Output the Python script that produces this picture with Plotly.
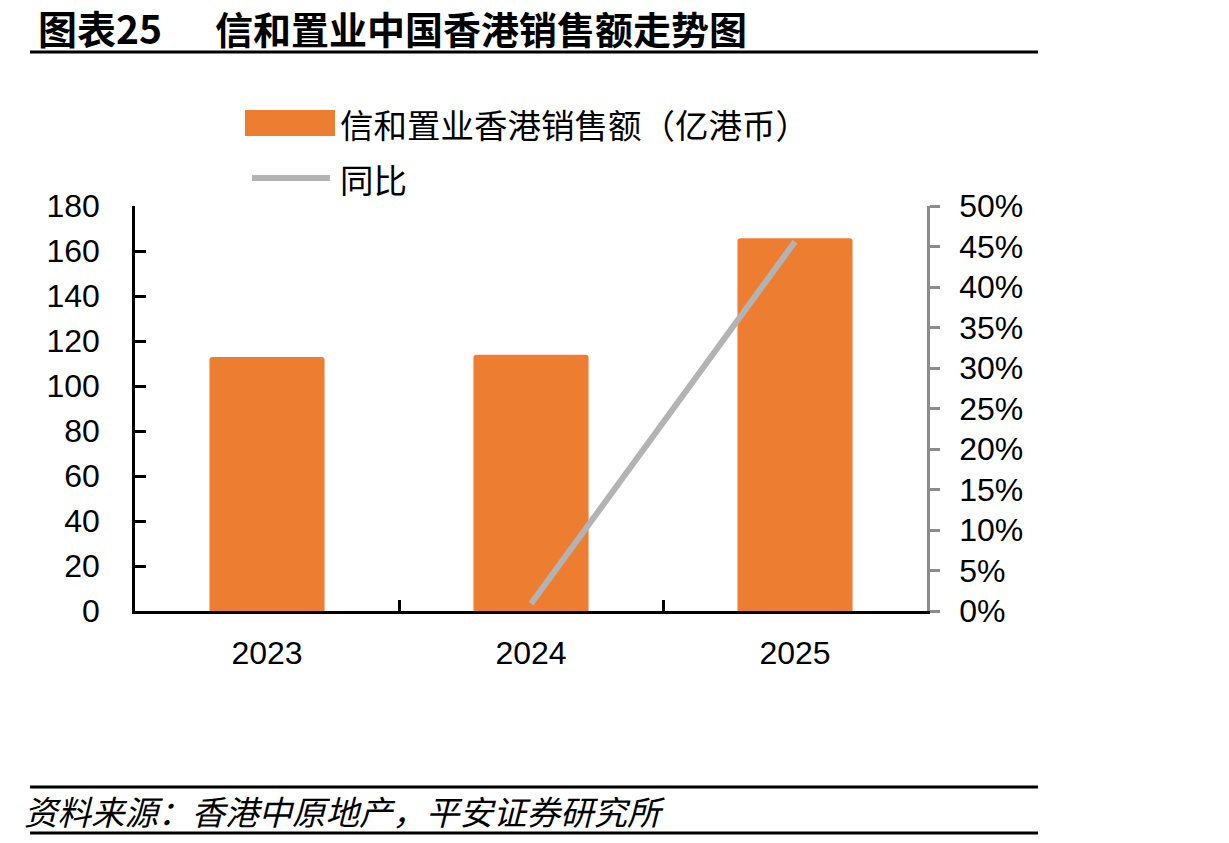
import plotly.graph_objects as go

# ---- data ----
years = ["2023", "2024", "2025"]
sales = [112.9, 113.9, 165.7]          # 亿港币
yoy = [None, 0.009, 0.456]             # 同比
y_ticks = [0, 20, 40, 60, 80, 100, 120, 140, 160, 180]
y2_ticks = [0, 0.05, 0.10, 0.15, 0.20, 0.25, 0.30, 0.35, 0.40, 0.45, 0.50]
y2_labels = ["0%", "5%", "10%", "15%", "20%", "25%", "30%", "35%", "40%", "45%", "50%"]

W, H = 1229, 843
def px(x): return x / W
def py(y): return 1 - y / H

FONT = "Liberation Sans, Arial, Noto Sans CJK SC"
CJK = "Noto Sans CJK SC, Liberation Sans"
ORANGE = "#ED7D31"
GRAY = "#B3B3B3"

fig = go.Figure()
fig.add_bar(x=years, y=sales, marker_color=ORANGE, marker_line_width=0,
            width=0.436, yaxis="y", showlegend=False, name="信和置业香港销售额（亿港币）")
fig.add_scatter(x=years, y=yoy, mode="lines", line=dict(color=GRAY, width=6),
                yaxis="y2", showlegend=False, name="同比")

fig.update_layout(
    width=W, height=H,
    margin=dict(l=0, r=0, t=0, b=0),
    paper_bgcolor="white", plot_bgcolor="white",
    template="none",
    barcornerradius=3,
    font=dict(family=FONT, size=32, color="black"),
    xaxis=dict(
        domain=[px(135), px(927)], type="category", range=[-0.5, 2.5],
        showline=True, linecolor="black", linewidth=3,
        ticks="inside", tickson="boundaries", ticklen=11, tickwidth=2.5, tickcolor="black",
        showgrid=False, zeroline=False, automargin=False,
        tickfont=dict(size=32, family=FONT), ticklabelstandoff=12, anchor="y",
    ),
    yaxis=dict(
        domain=[py(611), py(206)], range=[0, 180], tickvals=y_ticks,
        showline=True, linecolor="black", linewidth=2.5,
        ticks="inside", ticklen=11, tickwidth=2.5, tickcolor="black",
        showgrid=False, zeroline=False, automargin=False,
        tickfont=dict(size=32, family=FONT), ticklabelstandoff=26, anchor="x",
    ),
    yaxis2=dict(
        overlaying="y", side="right", anchor="x", range=[0, 0.5],
        tickvals=y2_ticks, ticktext=y2_labels,
        showline=True, linecolor="#8C8C8C", linewidth=2.5,
        ticks="outside", ticklen=10, tickwidth=2.5, tickcolor="#8C8C8C",
        showgrid=False, zeroline=False, automargin=False,
        tickfont=dict(size=32, family=FONT), ticklabelstandoff=13,
    ),
)

shapes = []
# title rule
shapes.append(dict(type="line", xref="paper", yref="paper", x0=px(30), x1=px(1038),
                   y0=py(52), y1=py(52), line=dict(color="black", width=3)))
# footer rules
for yy in (787, 833):
    shapes.append(dict(type="line", xref="paper", yref="paper", x0=px(30), x1=px(1038),
                       y0=py(yy), y1=py(yy), line=dict(color="black", width=3)))
# legend swatches
shapes.append(dict(type="rect", xref="paper", yref="paper", x0=px(245), x1=px(335),
                   y0=py(136), y1=py(110), fillcolor=ORANGE, line=dict(width=0)))
shapes.append(dict(type="line", xref="paper", yref="paper", x0=px(252), x1=px(330),
                   y0=py(178), y1=py(178), line=dict(color=GRAY, width=6)))
fig.update_layout(shapes=shapes)

ann = []
ann.append(dict(text="<b>图表25</b>", x=px(36), y=py(27), xref="paper", yref="paper",
                xanchor="left", yanchor="middle", showarrow=False,
                font=dict(family=CJK, size=39, color="black")))
ann.append(dict(text="<b>信和置业中国香港销售额走势图</b>", x=px(213), y=py(27), xref="paper", yref="paper",
                xanchor="left", yanchor="middle", showarrow=False,
                font=dict(family=CJK, size=38, color="black")))
ann.append(dict(text="信和置业香港销售额（亿港币）", x=px(338), y=py(124), xref="paper", yref="paper",
                xanchor="left", yanchor="middle", showarrow=False,
                font=dict(family=CJK, size=33.5, color="black")))
ann.append(dict(text="同比", x=px(338), y=py(178), xref="paper", yref="paper",
                xanchor="left", yanchor="middle", showarrow=False,
                font=dict(family=CJK, size=33.5, color="black")))
ann.append(dict(text="资料来源：香港中原地产，平安证券研究所", x=px(22), y=py(810), xref="paper", yref="paper",
                xanchor="left", yanchor="middle", showarrow=False,
                font=dict(family=CJK, size=33.5, color="black", style="italic")))
fig.update_layout(annotations=ann)

fig.write_html("out.html")
